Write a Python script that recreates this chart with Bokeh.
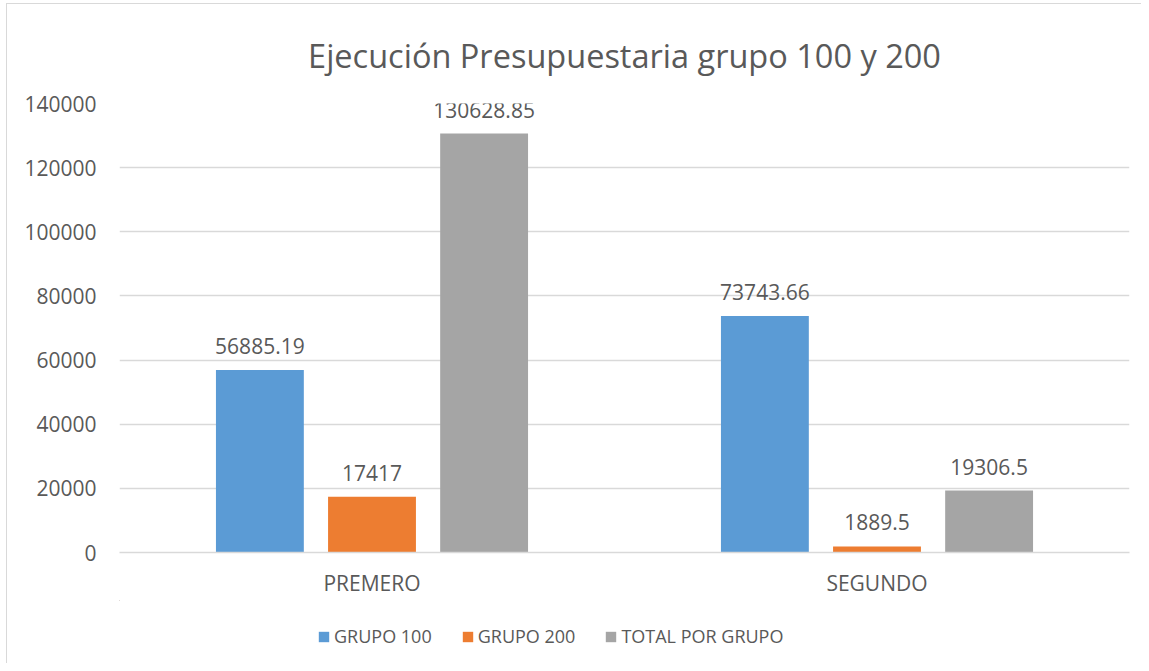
from bokeh.plotting import figure
from bokeh.layouts import column, row
from bokeh.models import (ColumnDataSource, FactorRange, Legend, LegendItem, Range1d,
                          NumeralTickFormatter, FixedTicker, Spacer)
from bokeh.transform import dodge
from bokeh.embed import file_html
from bokeh.resources import INLINE
from bokeh.core.properties import value

categories = ["PREMERO", "SEGUNDO"]
grupo_100 = [56885.19, 73743.66]
grupo_200 = [17417, 1889.5]
total_por_grupo = [130628.85, 19306.5]
series_names = ["GRUPO 100", "GRUPO 200", "TOTAL POR GRUPO"]
series_colors = ["#5B9BD5", "#ED7D31", "#A5A5A5"]
y_ticks = [0, 20000, 40000, 60000, 80000, 100000, 120000, 140000]


def fmt(v):
    s = ("%.2f" % v).rstrip("0").rstrip(".")
    return s


FONT = "Open Sans"
TXT = "#595959"

src = ColumnDataSource(dict(
    cat=categories,
    g100=grupo_100, g200=grupo_200, tot=total_por_grupo,
    l100=[fmt(v) for v in grupo_100],
    l200=[fmt(v) for v in grupo_200],
    ltot=[fmt(v) for v in total_por_grupo],
))

p = figure(width=1134, height=596, output_backend="svg", toolbar_location=None,
           x_range=FactorRange(*categories, range_padding=0),
           y_range=Range1d(0, 140000),
           min_border_left=112, min_border_right=12, min_border_top=98,
           min_border_bottom=48)

p.title.text = "Ejecución Presupuestaria grupo 100 y 200"
p.title.align = "center"
p.title.text_font = FONT
p.title.text_font_size = "32.5px"
p.title.text_font_style = "normal"
p.title.text_color = TXT
p.title.standoff = 52

offs = [-0.222, 0.0, 0.222]
cols = ["g100", "g200", "tot"]
lcols = ["l100", "l200", "ltot"]
for off, c, lc, color in zip(offs, cols, lcols, series_colors):
    p.vbar(x=dodge("cat", off, range=p.x_range), top=c, width=0.174, source=src,
           fill_color=color, line_color=None)
    p.text(x=dodge("cat", off, range=p.x_range), y=c, text=lc, source=src,
           text_align="center", text_baseline="alphabetic", y_offset=-24,
           text_font=value(FONT), text_font_size="21px", text_color=TXT)

p.yaxis.ticker = FixedTicker(ticks=y_ticks)
p.yaxis.formatter = NumeralTickFormatter(format="0")
p.yaxis.axis_line_color = None
p.yaxis.major_tick_line_color = None
p.yaxis.minor_tick_line_color = None
p.yaxis.major_label_standoff = 17
p.yaxis.major_label_text_font = FONT
p.yaxis.major_label_text_font_size = "21px"
p.yaxis.major_label_text_color = TXT

p.xaxis.axis_line_color = "#D9D9D9"
p.xaxis.axis_line_width = 1.5
p.xaxis.major_tick_line_color = None
p.xaxis.minor_tick_line_color = None
p.xaxis.major_label_standoff = 10
p.xaxis.major_label_text_font = FONT
p.xaxis.major_label_text_font_size = "21px"
p.xaxis.major_label_text_color = TXT

p.xgrid.grid_line_color = None
p.ygrid.grid_line_color = "#D9D9D9"
p.ygrid.grid_line_width = 1.5
p.outline_line_color = None
p.border_fill_color = "white"

# legend strip below the chart: same series, kept outside its visible ranges
pl = figure(width=1134, height=63, output_backend="svg", toolbar_location=None,
            x_range=Range1d(10, 11), y_range=Range1d(-2, -1),
            x_axis_location=None, y_axis_location=None,
            min_border_left=0, min_border_right=0, min_border_top=0, min_border_bottom=0)
pl.grid.grid_line_color = None
pl.outline_line_color = None
pl.border_fill_color = "white"
swatches = []
for c, color in zip(cols, series_colors):
    swatches.append(pl.vbar(x=0.5, top=c, width=0, source=src,
                            fill_color=color, line_color=None))
legend = Legend(items=[LegendItem(label=n, renderers=[r]) for n, r in zip(series_names, swatches)],
                orientation="horizontal", location=(198, 15),
                label_text_font=FONT, label_text_font_size="18px", label_text_color=TXT,
                glyph_width=13, glyph_height=13, label_standoff=4, spacing=29,
                border_line_color=None, background_fill_alpha=0,
                margin=0, padding=0, label_height=20)
pl.add_layout(legend, "center")

inner = column(p, pl, spacing=0,
               styles={"border-left": "1px solid #D9D9D9", "border-top": "1px solid #D9D9D9"})
layout = column(Spacer(height=3), row(Spacer(width=6), inner, spacing=0), spacing=0)

open("out.html", "w").write(file_html(layout, INLINE))
